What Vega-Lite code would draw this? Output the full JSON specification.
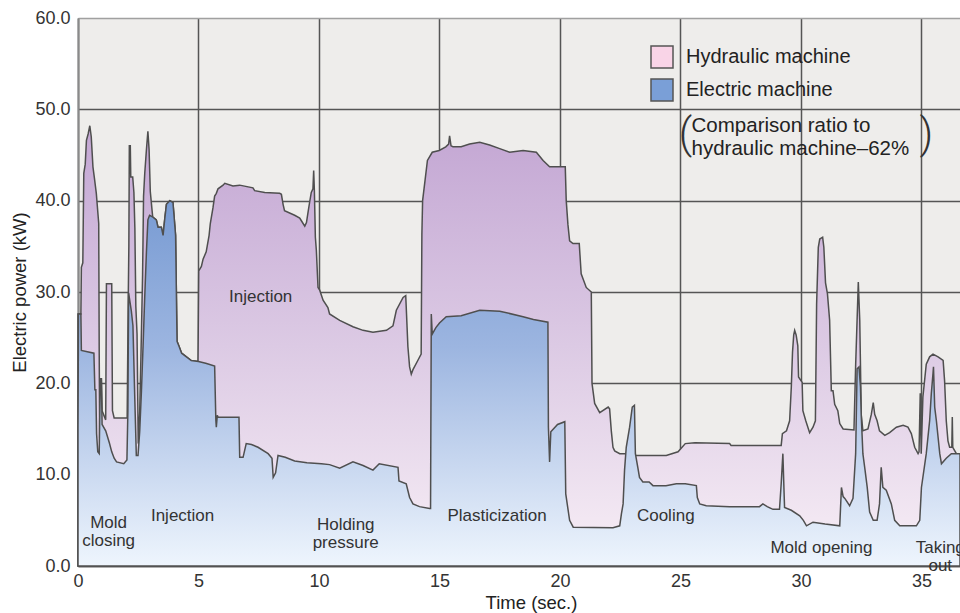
{
  "$schema": "https://vega.github.io/schema/vega-lite/v6.json",
  "width": 882,
  "height": 548,
  "autosize": {"type": "none"},
  "padding": {"left": 78, "top": 18, "right": 0, "bottom": 47},
  "background": "white",
  "config": {
    "view": {"fill": "#eeedeb", "stroke": null},
    "font": "Liberation Sans",
    "axis": {
      "labelFont": "Liberation Sans",
      "titleFont": "Liberation Sans",
      "labelColor": "#333",
      "titleColor": "#222",
      "labelFontSize": 18,
      "titleFontSize": 18.5,
      "titleFontWeight": "normal",
      "ticks": false,
      "domainColor": "#8a8a8a",
      "domainWidth": 2,
      "gridColor": "#555",
      "gridWidth": 1.5,
      "gridOpacity": 1
    }
  },
  "datasets": {
    "hydraulic": [
      {"t":0,"kw":27.6},{"t":0.12,"kw":27.6},{"t":0.14,"kw":32.7},{"t":0.2,"kw":33.2},{"t":0.24,"kw":43},{"t":0.3,"kw":44},{"t":0.35,"kw":46.6},{"t":0.42,"kw":47.3},{"t":0.49,"kw":48.2},{"t":0.55,"kw":47},{"t":0.62,"kw":43.7},{"t":0.68,"kw":42.5},{"t":0.76,"kw":40.8},{"t":0.86,"kw":37.5},{"t":0.88,"kw":23.5},{"t":0.9,"kw":14},{"t":0.93,"kw":20.5},{"t":0.97,"kw":20.5},{"t":1.0,"kw":17},{"t":1.15,"kw":16},{"t":1.18,"kw":30.9},{"t":1.4,"kw":30.9},{"t":1.43,"kw":17},{"t":1.5,"kw":16.2},{"t":2.04,"kw":16.2},{"t":2.08,"kw":28},{"t":2.11,"kw":35},{"t":2.13,"kw":46},{"t":2.17,"kw":46},{"t":2.19,"kw":42.6},{"t":2.27,"kw":42.6},{"t":2.32,"kw":40.9},{"t":2.36,"kw":37},{"t":2.4,"kw":28.4},{"t":2.45,"kw":25.4},{"t":2.5,"kw":13.4},{"t":2.56,"kw":16.8},{"t":2.62,"kw":24},{"t":2.68,"kw":31.9},{"t":2.72,"kw":40.5},{"t":2.77,"kw":43},{"t":2.84,"kw":45.6},{"t":2.9,"kw":47.6},{"t":2.95,"kw":45.6},{"t":3.0,"kw":41},{"t":3.05,"kw":39.6},{"t":3.1,"kw":38.2},{"t":3.25,"kw":37.9},{"t":3.32,"kw":37.1},{"t":3.46,"kw":37.1},{"t":3.53,"kw":36.2},{"t":3.6,"kw":38},{"t":3.67,"kw":39.6},{"t":3.81,"kw":40.0},{"t":3.94,"kw":39.8},{"t":4.05,"kw":36.2},{"t":4.11,"kw":24.6},{"t":4.2,"kw":24.0},{"t":4.3,"kw":23.3},{"t":4.5,"kw":22.9},{"t":4.7,"kw":22.5},{"t":4.98,"kw":22.4},{"t":5.01,"kw":32.3},{"t":5.12,"kw":32.8},{"t":5.19,"kw":33.6},{"t":5.32,"kw":34.4},{"t":5.44,"kw":36.2},{"t":5.49,"kw":37.5},{"t":5.6,"kw":39.2},{"t":5.67,"kw":40.5},{"t":5.74,"kw":40.8},{"t":5.81,"kw":41.3},{"t":6.02,"kw":41.7},{"t":6.09,"kw":41.9},{"t":6.43,"kw":41.6},{"t":6.71,"kw":41.7},{"t":7.26,"kw":41.4},{"t":7.33,"kw":41.1},{"t":7.75,"kw":40.9},{"t":8.37,"kw":40.8},{"t":8.44,"kw":40.7},{"t":8.51,"kw":39.6},{"t":8.57,"kw":38.9},{"t":8.99,"kw":38.4},{"t":9.2,"kw":38.1},{"t":9.27,"kw":37.8},{"t":9.41,"kw":37.2},{"t":9.48,"kw":37.6},{"t":9.55,"kw":38.8},{"t":9.61,"kw":39.8},{"t":9.68,"kw":40.9},{"t":9.75,"kw":41.3},{"t":9.78,"kw":43.3},{"t":9.81,"kw":41},{"t":9.85,"kw":36},{"t":9.89,"kw":34.6},{"t":9.96,"kw":30.5},{"t":10.03,"kw":30.2},{"t":10.17,"kw":29.1},{"t":10.37,"kw":28.3},{"t":10.44,"kw":27.6},{"t":10.86,"kw":26.9},{"t":11.41,"kw":26.2},{"t":11.83,"kw":25.8},{"t":12.24,"kw":25.6},{"t":12.8,"kw":25.8},{"t":13.07,"kw":26.3},{"t":13.21,"kw":28},{"t":13.49,"kw":29.4},{"t":13.6,"kw":29.6},{"t":13.65,"kw":26.5},{"t":13.69,"kw":24},{"t":13.76,"kw":21.8},{"t":13.83,"kw":21},{"t":13.9,"kw":21.5},{"t":14.1,"kw":22.5},{"t":14.24,"kw":23.2},{"t":14.27,"kw":36.3},{"t":14.3,"kw":40},{"t":14.4,"kw":42.2},{"t":14.5,"kw":44.4},{"t":14.7,"kw":45.3},{"t":14.99,"kw":45.5},{"t":15.26,"kw":45.9},{"t":15.38,"kw":46.2},{"t":15.42,"kw":47.1},{"t":15.48,"kw":46.0},{"t":15.56,"kw":45.9},{"t":15.9,"kw":45.9},{"t":16.25,"kw":46.2},{"t":16.67,"kw":46.4},{"t":17.08,"kw":46.1},{"t":17.5,"kw":45.7},{"t":17.91,"kw":45.3},{"t":18.47,"kw":45.5},{"t":19.02,"kw":45.3},{"t":19.3,"kw":44.4},{"t":19.57,"kw":43.7},{"t":20.22,"kw":43.7},{"t":20.26,"kw":40.0},{"t":20.33,"kw":37.4},{"t":20.4,"kw":35.6},{"t":20.54,"kw":35.3},{"t":20.8,"kw":35.3},{"t":20.88,"kw":32.0},{"t":21.09,"kw":30.5},{"t":21.3,"kw":30.0},{"t":21.33,"kw":20.0},{"t":21.44,"kw":17.8},{"t":21.65,"kw":16.8},{"t":22.0,"kw":17.4},{"t":22.06,"kw":17.2},{"t":22.13,"kw":14.8},{"t":22.2,"kw":13.0},{"t":22.27,"kw":12.6},{"t":22.48,"kw":12.3},{"t":22.75,"kw":12.3},{"t":23.17,"kw":12.1},{"t":24.41,"kw":12.1},{"t":24.9,"kw":12.5},{"t":25.2,"kw":13.4},{"t":25.6,"kw":13.5},{"t":27.04,"kw":13.4},{"t":27.1,"kw":13.2},{"t":29.18,"kw":13.2},{"t":29.23,"kw":14.5},{"t":29.4,"kw":14.8},{"t":29.53,"kw":15.9},{"t":29.6,"kw":19.6},{"t":29.65,"kw":23.4},{"t":29.7,"kw":25.3},{"t":29.74,"kw":25.8},{"t":29.8,"kw":25.3},{"t":29.87,"kw":24.1},{"t":29.9,"kw":20.7},{"t":30.0,"kw":20.3},{"t":30.05,"kw":20.1},{"t":30.08,"kw":17.0},{"t":30.2,"kw":15.9},{"t":30.36,"kw":14.6},{"t":30.5,"kw":15.2},{"t":30.6,"kw":15.9},{"t":30.65,"kw":28.7},{"t":30.72,"kw":34.9},{"t":30.78,"kw":35.8},{"t":30.9,"kw":36.0},{"t":30.95,"kw":34.9},{"t":31.02,"kw":31.0},{"t":31.1,"kw":29.8},{"t":31.19,"kw":26.9},{"t":31.26,"kw":19.2},{"t":31.33,"kw":19.2},{"t":31.4,"kw":17.7},{"t":31.53,"kw":17.0},{"t":31.61,"kw":15.6},{"t":31.75,"kw":15.0},{"t":32.2,"kw":14.9},{"t":32.27,"kw":22.0},{"t":32.38,"kw":31.1},{"t":32.44,"kw":26.9},{"t":32.47,"kw":22.0},{"t":32.5,"kw":16.6},{"t":32.57,"kw":14.8},{"t":32.78,"kw":15.0},{"t":32.92,"kw":16.6},{"t":33.0,"kw":17.9},{"t":33.06,"kw":16.6},{"t":33.16,"kw":15.9},{"t":33.26,"kw":14.8},{"t":33.48,"kw":14.3},{"t":33.68,"kw":14.6},{"t":33.96,"kw":15.2},{"t":34.24,"kw":15.4},{"t":34.44,"kw":15.2},{"t":34.58,"kw":14.5},{"t":34.72,"kw":13.0},{"t":34.86,"kw":12.3},{"t":34.9,"kw":12.5},{"t":34.95,"kw":18.9},{"t":34.99,"kw":12.3},{"t":35.06,"kw":18.5},{"t":35.2,"kw":22.1},{"t":35.34,"kw":22.9},{"t":35.48,"kw":23.2},{"t":35.69,"kw":22.9},{"t":35.9,"kw":22.5},{"t":35.96,"kw":20.3},{"t":36.03,"kw":15.9},{"t":36.1,"kw":13.7},{"t":36.17,"kw":13.0},{"t":36.26,"kw":13.0},{"t":36.28,"kw":16.3},{"t":36.3,"kw":13},{"t":36.45,"kw":12.3},{"t":36.6,"kw":12.3}
    ],
    "electric": [
      {"t":0,"kw":15},{"t":0.02,"kw":27.6},{"t":0.12,"kw":27.6},{"t":0.14,"kw":23.6},{"t":0.66,"kw":23.3},{"t":0.7,"kw":19.3},{"t":0.74,"kw":19.3},{"t":0.77,"kw":14.5},{"t":0.82,"kw":12.5},{"t":0.88,"kw":12.3},{"t":0.9,"kw":16},{"t":0.93,"kw":20.5},{"t":0.97,"kw":20.5},{"t":1.0,"kw":15.5},{"t":1.15,"kw":14.8},{"t":1.3,"kw":13.5},{"t":1.4,"kw":12.5},{"t":1.5,"kw":11.8},{"t":1.6,"kw":11.4},{"t":1.9,"kw":11.2},{"t":2.03,"kw":11.6},{"t":2.07,"kw":17},{"t":2.1,"kw":29.9},{"t":2.21,"kw":28},{"t":2.28,"kw":26.3},{"t":2.35,"kw":19},{"t":2.42,"kw":12.1},{"t":2.49,"kw":12.1},{"t":2.56,"kw":14.7},{"t":2.63,"kw":19},{"t":2.7,"kw":24.1},{"t":2.77,"kw":29.5},{"t":2.84,"kw":34.4},{"t":2.9,"kw":37.9},{"t":2.97,"kw":38.4},{"t":3.11,"kw":38.2},{"t":3.25,"kw":37.9},{"t":3.32,"kw":37.1},{"t":3.46,"kw":37.1},{"t":3.53,"kw":36.2},{"t":3.6,"kw":38},{"t":3.67,"kw":39.6},{"t":3.81,"kw":40.0},{"t":3.94,"kw":39.8},{"t":4.05,"kw":36.2},{"t":4.11,"kw":24.6},{"t":4.2,"kw":24.0},{"t":4.3,"kw":23.3},{"t":4.5,"kw":22.9},{"t":4.7,"kw":22.5},{"t":5.0,"kw":22.4},{"t":5.3,"kw":22.2},{"t":5.67,"kw":21.9},{"t":5.72,"kw":16},{"t":5.74,"kw":15.2},{"t":5.78,"kw":16.5},{"t":5.81,"kw":16.3},{"t":6.68,"kw":16.3},{"t":6.71,"kw":11.9},{"t":6.85,"kw":11.9},{"t":6.98,"kw":13.4},{"t":7.2,"kw":13.3},{"t":7.47,"kw":13.0},{"t":7.89,"kw":12.3},{"t":8.05,"kw":11.8},{"t":8.1,"kw":9.7},{"t":8.2,"kw":10.2},{"t":8.3,"kw":12.1},{"t":8.6,"kw":11.9},{"t":8.99,"kw":11.5},{"t":9.5,"kw":11.3},{"t":10.1,"kw":11.2},{"t":10.44,"kw":11.1},{"t":10.86,"kw":10.7},{"t":11.41,"kw":11.4},{"t":11.83,"kw":11.0},{"t":12.24,"kw":10.5},{"t":12.5,"kw":11.2},{"t":13.28,"kw":10.8},{"t":13.32,"kw":9.3},{"t":13.62,"kw":9.0},{"t":13.76,"kw":7.5},{"t":13.9,"kw":6.8},{"t":14.17,"kw":6.5},{"t":14.59,"kw":6.3},{"t":14.63,"kw":6.3},{"t":14.66,"kw":27.6},{"t":14.7,"kw":25.4},{"t":14.85,"kw":26.1},{"t":15.0,"kw":26.6},{"t":15.28,"kw":27.3},{"t":15.9,"kw":27.4},{"t":16.67,"kw":28.0},{"t":17.5,"kw":27.9},{"t":18.47,"kw":27.3},{"t":18.9,"kw":27.0},{"t":19.5,"kw":26.7},{"t":19.52,"kw":15.2},{"t":19.57,"kw":11.4},{"t":19.62,"kw":14.7},{"t":19.9,"kw":15.5},{"t":20.2,"kw":15.8},{"t":20.24,"kw":7.9},{"t":20.4,"kw":5.0},{"t":20.55,"kw":4.25},{"t":22.2,"kw":4.2},{"t":22.48,"kw":4.4},{"t":22.55,"kw":5.7},{"t":22.62,"kw":6.8},{"t":22.68,"kw":10.5},{"t":22.75,"kw":13.0},{"t":22.89,"kw":15.2},{"t":23.0,"kw":17.4},{"t":23.09,"kw":17.6},{"t":23.13,"kw":12.3},{"t":23.23,"kw":10.8},{"t":23.3,"kw":9.7},{"t":23.44,"kw":9.2},{"t":23.7,"kw":9.2},{"t":23.86,"kw":8.8},{"t":24.4,"kw":8.8},{"t":24.83,"kw":9.0},{"t":25.2,"kw":9.0},{"t":25.66,"kw":8.8},{"t":25.7,"kw":7.5},{"t":25.8,"kw":6.8},{"t":26.07,"kw":6.6},{"t":27.04,"kw":6.5},{"t":28.28,"kw":6.5},{"t":28.42,"kw":6.8},{"t":28.6,"kw":6.5},{"t":28.84,"kw":6.2},{"t":29.11,"kw":6.2},{"t":29.18,"kw":9.0},{"t":29.25,"kw":12.3},{"t":29.3,"kw":8},{"t":29.32,"kw":6.4},{"t":29.6,"kw":6.1},{"t":29.95,"kw":5.5},{"t":30.1,"kw":5.0},{"t":30.23,"kw":4.4},{"t":30.5,"kw":4.8},{"t":31.0,"kw":4.6},{"t":31.61,"kw":4.4},{"t":31.68,"kw":8.6},{"t":31.75,"kw":7.6},{"t":31.82,"kw":7.4},{"t":32.02,"kw":6.6},{"t":32.16,"kw":7.4},{"t":32.27,"kw":12.3},{"t":32.33,"kw":21.6},{"t":32.41,"kw":21.8},{"t":32.47,"kw":19.6},{"t":32.5,"kw":16.6},{"t":32.57,"kw":12.3},{"t":32.66,"kw":10.5},{"t":32.75,"kw":8.6},{"t":32.85,"kw":5.9},{"t":33.0,"kw":5.0},{"t":33.16,"kw":5.0},{"t":33.26,"kw":6.8},{"t":33.33,"kw":10.8},{"t":33.4,"kw":8.6},{"t":33.54,"kw":8.3},{"t":33.75,"kw":6.8},{"t":33.89,"kw":5.0},{"t":34.1,"kw":4.4},{"t":34.79,"kw":4.4},{"t":34.93,"kw":5.0},{"t":35.0,"kw":8.6},{"t":35.2,"kw":12.3},{"t":35.34,"kw":15.9},{"t":35.41,"kw":18.9},{"t":35.48,"kw":21.1},{"t":35.5,"kw":21.8},{"t":35.55,"kw":17.4},{"t":35.62,"kw":15.9},{"t":35.76,"kw":12.3},{"t":35.83,"kw":11.2},{"t":36.03,"kw":11.8},{"t":36.24,"kw":12.3},{"t":36.6,"kw":12.3}
    ],
    "phases": [
      {"t":1.27,"kw":4.7,"label":"Mold\nclosing"},
      {"t":4.34,"kw":5.5,"label":"Injection"},
      {"t":11.11,"kw":4.45,"label":"Holding\npressure"},
      {"t":17.39,"kw":5.5,"label":"Plasticization"},
      {"t":24.39,"kw":5.5,"label":"Cooling"},
      {"t":30.85,"kw":1.95,"label":"Mold opening"},
      {"t":35.78,"kw":2.0,"label":"Taking\nout"},
      {"t":7.58,"kw":29.4,"label":"Injection"}
    ],
    "note": [
      {"t":25.46,"kw":48.15,"label":"Comparison ratio to\nhydraulic machine\u201362%"}
    ],
    "parens": [
      {"t":25.21,"kw":47.2,"label":"("},
      {"t":35.2,"kw":47.2,"label":")"}
    ]
  },
  "encoding": {
    "x": {
      "field": "t",
      "type": "quantitative",
      "scale": {"domain": [0, 36.6], "nice": false, "zero": false},
      "axis": {
        "title": "Time (sec.)",
        "values": [0, 5, 10, 15, 20, 25, 30, 35],
        "format": "d",
        "labelPadding": 6,
        "titlePadding": 3,
        "titleX": 453,
        "labelFlush": false
      }
    },
    "y": {
      "field": "kw",
      "type": "quantitative",
      "scale": {"domain": [0, 60], "nice": false},
      "axis": {
        "title": "Electric power (kW)",
        "values": [0, 10, 20, 30, 40, 50, 60],
        "format": ".1f",
        "labelPadding": 8,
        "titleX": -59,
        "titleBaseline": "middle",
        "gridColor": {"condition": {"test": "datum.value === 60", "value": "#a0a0a0"}, "value": "#555"}
      }
    }
  },
  "layer": [
    {
      "data": {"name": "hydraulic"},
      "mark": {
        "type": "area",
        "interpolate": "linear",
        "stroke": "#4f4f4f",
        "strokeWidth": 1.5,
        "fill": {
          "gradient": "linear", "x1": 0, "y1": 0, "x2": 0, "y2": 1,
          "stops": [
            {"offset": 0, "color": "#c3a6d3"},
            {"offset": 0.5, "color": "#dccae4"},
            {"offset": 1, "color": "#f8eff6"}
          ]
        }
      }
    },
    {
      "data": {"name": "electric"},
      "mark": {
        "type": "area",
        "interpolate": "linear",
        "stroke": "#4f4f4f",
        "strokeWidth": 1.5,
        "fill": {
          "gradient": "linear", "x1": 0, "y1": 0, "x2": 0, "y2": 1,
          "stops": [
            {"offset": 0, "color": "#789bd3"},
            {"offset": 0.4, "color": "#9cb5e0"},
            {"offset": 1, "color": "#eef5fd"}
          ]
        }
      }
    },
    {
      "data": {"values": [{"machine": "Hydraulic machine"}, {"machine": "Electric machine"}]},
      "mark": {"type": "square", "clip": true, "size": 20},
      "encoding": {
        "x": {"value": -200},
        "y": {"value": -200},
        "color": {
          "field": "machine",
          "type": "nominal",
          "scale": {"domain": ["Hydraulic machine", "Electric machine"], "range": ["#f9d4e7", "#7a9fd7"]},
          "legend": {
            "orient": "none",
            "legendX": 572,
            "legendY": 27,
            "title": null,
            "padding": 0,
            "symbolType": "square",
            "symbolSize": 484,
            "symbolOpacity": 1,
            "symbolStrokeColor": "#555",
            "symbolStrokeWidth": 1.5,
            "labelFont": "Liberation Sans",
            "labelFontSize": 20,
            "labelColor": "#222",
            "labelOffset": 12,
            "rowPadding": 5,
            "labelLimit": 300,
            "encode": {"symbols": {"update": {"stroke": {"value": "#555"}, "strokeWidth": {"value": 1.5}, "opacity": {"value": 1}}}}
          }
        }
      }
    },
    {
      "data": {"name": "phases"},
      "mark": {"type": "text", "font": "Liberation Sans", "fontSize": 17, "color": "#333", "align": "center", "baseline": "middle", "lineBreak": "\n", "lineHeight": 18},
      "encoding": {"text": {"field": "label"}}
    },
    {
      "data": {"name": "note"},
      "mark": {"type": "text", "font": "Liberation Sans", "fontSize": 20.5, "color": "#222", "align": "left", "baseline": "middle", "lineBreak": "\n", "lineHeight": 22.5},
      "encoding": {"text": {"field": "label"}}
    },
    {
      "data": {"name": "parens"},
      "mark": {"type": "text", "font": "Roboto", "fontWeight": 300, "fontSize": 42, "color": "#333", "align": "center", "baseline": "middle"},
      "encoding": {"text": {"field": "label"}}
    }
  ]
}
